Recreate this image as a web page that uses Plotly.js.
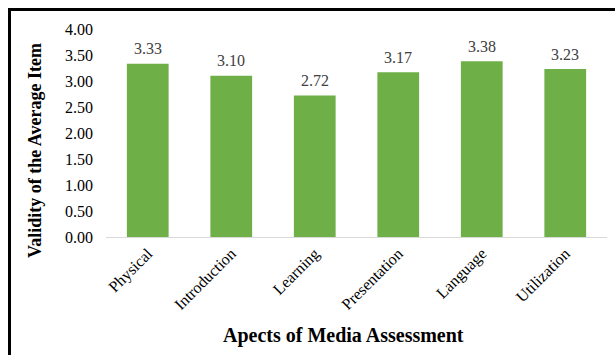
<!DOCTYPE html>
<html><head><meta charset="utf-8">
<script src="https://cdn.plot.ly/plotly-3.0.1.min.js"></script>
<style>
html,body{margin:0;padding:0;background:#fff;overflow:hidden}
#chart{width:615px;height:355px;position:absolute;left:0;top:0}
#frame{position:absolute;left:8px;top:8px;width:700px;height:400px;border:3px solid #000;pointer-events:none}
</style></head>
<body>
<div id="chart"></div>
<div id="frame"></div>
<script>
const categories = ["Physical","Introduction","Learning","Presentation","Language","Utilization"];
const values = [3.33, 3.10, 2.72, 3.17, 3.38, 3.23];
const valueLabels = ["3.33","3.10","2.72","3.17","3.38","3.23"];
const yTickVals = [0,0.5,1,1.5,2,2.5,3,3.5,4];
const yTickText = ["0.00","0.50","1.00","1.50","2.00","2.50","3.00","3.50","4.00"];
const xTitle = "Apects of Media Assessment";
const yTitle = "Validity of the Average Item";

const font = "Liberation Serif, Times New Roman, serif";
// plot area: x 106..607, y 29..237
const L = 106, R = 607, T = 29, B = 237;
const W = R - L, H = B - T;

const valueAnns = categories.map((c, i) => ({
  x: c, y: values[i], xref: "x", yref: "y",
  text: valueLabels[i], showarrow: false,
  xanchor: "center", yanchor: "middle", yshift: 15,
  font: {family: font, size: 16, color: "#404040"}
}));

Plotly.newPlot("chart", [{
  type: "bar",
  x: categories,
  y: values,
  marker: {color: "#6faf47", line: {width: 0}},
  hoverinfo: "none"
}], {
  width: 615, height: 355,
  margin: {l: L, r: 615 - R, t: T, b: 355 - B},
  bargap: 0.5,
  paper_bgcolor: "#fff", plot_bgcolor: "#fff",
  showlegend: false,
  font: {family: font, color: "#000"},
  xaxis: {
    tickangle: -45,
    tickfont: {family: font, size: 16, color: "#000"},
    showline: true, linecolor: "#d9d9d9", linewidth: 1,
    ticks: "", showgrid: false
  },
  yaxis: {
    range: [0, 4],
    tickvals: yTickVals, ticktext: yTickText,
    tickfont: {family: font, size: 16, color: "#000"},
    showgrid: false, zeroline: false, showline: false, ticks: "",
    ticklabelstandoff: 12
  },
  annotations: valueAnns.concat([
    {text: "<b>" + xTitle + "</b>", xref: "paper", yref: "paper",
     x: (343 - L) / W, y: (B - 335) / H, xanchor: "center", yanchor: "middle",
     showarrow: false, font: {family: font, size: 20, color: "#000"}},
    {text: "<b>" + yTitle + "</b>", xref: "paper", yref: "paper", textangle: -90,
     x: (35 - L) / W, y: (B - 151) / H, xanchor: "center", yanchor: "middle",
     showarrow: false, font: {family: font, size: 18, color: "#000"}}
  ])
}, {staticPlot: true});
</script>
</body></html>
